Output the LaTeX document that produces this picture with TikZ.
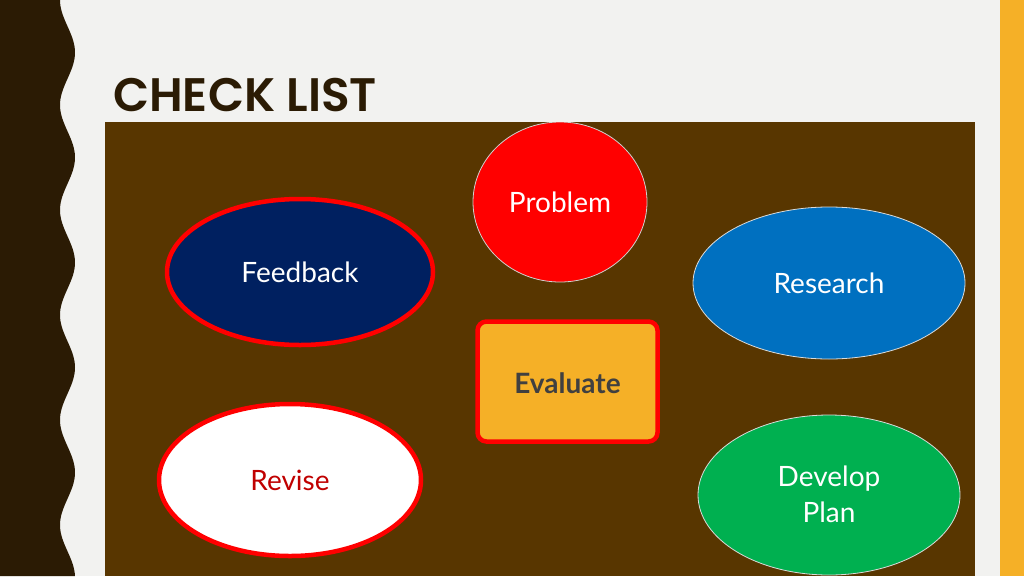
\documentclass[tikz,border=0pt]{standalone}
\usepackage{fontspec}
\usetikzlibrary{shapes.geometric}
\setmainfont{Lato}
\newfontfamily\titlefont{Poppins SemiBold}
\definecolor{bg}{HTML}{F2F2F0}
\definecolor{darkb}{HTML}{2B1B04}
\definecolor{panel}{HTML}{583600}
\definecolor{orng}{HTML}{F5B027}
\definecolor{navy}{HTML}{002060}
\definecolor{blu}{HTML}{0070C0}
\definecolor{grn}{HTML}{00B050}
\definecolor{redd}{HTML}{FF0000}
\definecolor{dred}{HTML}{C00000}
\tikzset{x=1pt,y=-1pt,
 lbl/.style={font=\fontsize{28}{32}\selectfont, text=white, align=center},
 thin/.style={draw=bg!80!gray, line width=0.8pt},
 thick/.style={draw=redd, line width=4.5pt}}
\begin{document}
\begin{tikzpicture}
\useasboundingbox (0,0) rectangle (1024,576);
\fill[bg] (0,0) rectangle (1024,576);
\fill[darkb] (0,0) -- plot[domain=0:576, samples=200, smooth] ({67.5-7.5*cos(3.42857*\x)}, \x) -- (0,576) -- cycle;
\fill[orng] (1000,0) rectangle (1024,576);
\node[anchor=south west, inner sep=0, text=darkb, font=\titlefont\fontsize{47}{50}\selectfont] (title) at (113,112) {CHECK LIST};
\fill[panel] (105,122) rectangle (975,576);
\begin{scope}
\clip (105,122) rectangle (975,576);
\node[thin, fill=redd, ellipse, minimum width=174, minimum height=160, inner sep=0, draw=bg!70!gray] (prob) at (560,202) {};
\node[thick, fill=navy, ellipse, minimum width=266, minimum height=146, inner sep=0] (fb) at (300,272) {};
\node[thin, fill=blu, ellipse, minimum width=272, minimum height=152, inner sep=0] (res) at (829,283) {};
\node[thick, fill=orng, rounded corners=9, minimum width=180, minimum height=120, inner sep=0] (ev) at (567.5,381.5) {};
\node[thick, fill=white, ellipse, minimum width=262, minimum height=152, inner sep=0] (rev) at (290,480) {};
\node[thin, fill=grn, ellipse, minimum width=262, minimum height=160, inner sep=0] (dev) at (829,495) {};
\end{scope}
\node[lbl] at (560,202) {Problem};
\node[lbl] at (300,272) {Feedback};
\node[lbl] at (829,283) {Research};
\node[lbl, text=black!75, font=\bfseries\fontsize{28}{32}\selectfont] at (567.5,383) {Evaluate};
\node[lbl, text=dred] at (290,480) {Revise};
\node[lbl, font=\fontsize{28}{36}\selectfont] at (829,494) {Develop\\Plan};
\end{tikzpicture}
\end{document}
